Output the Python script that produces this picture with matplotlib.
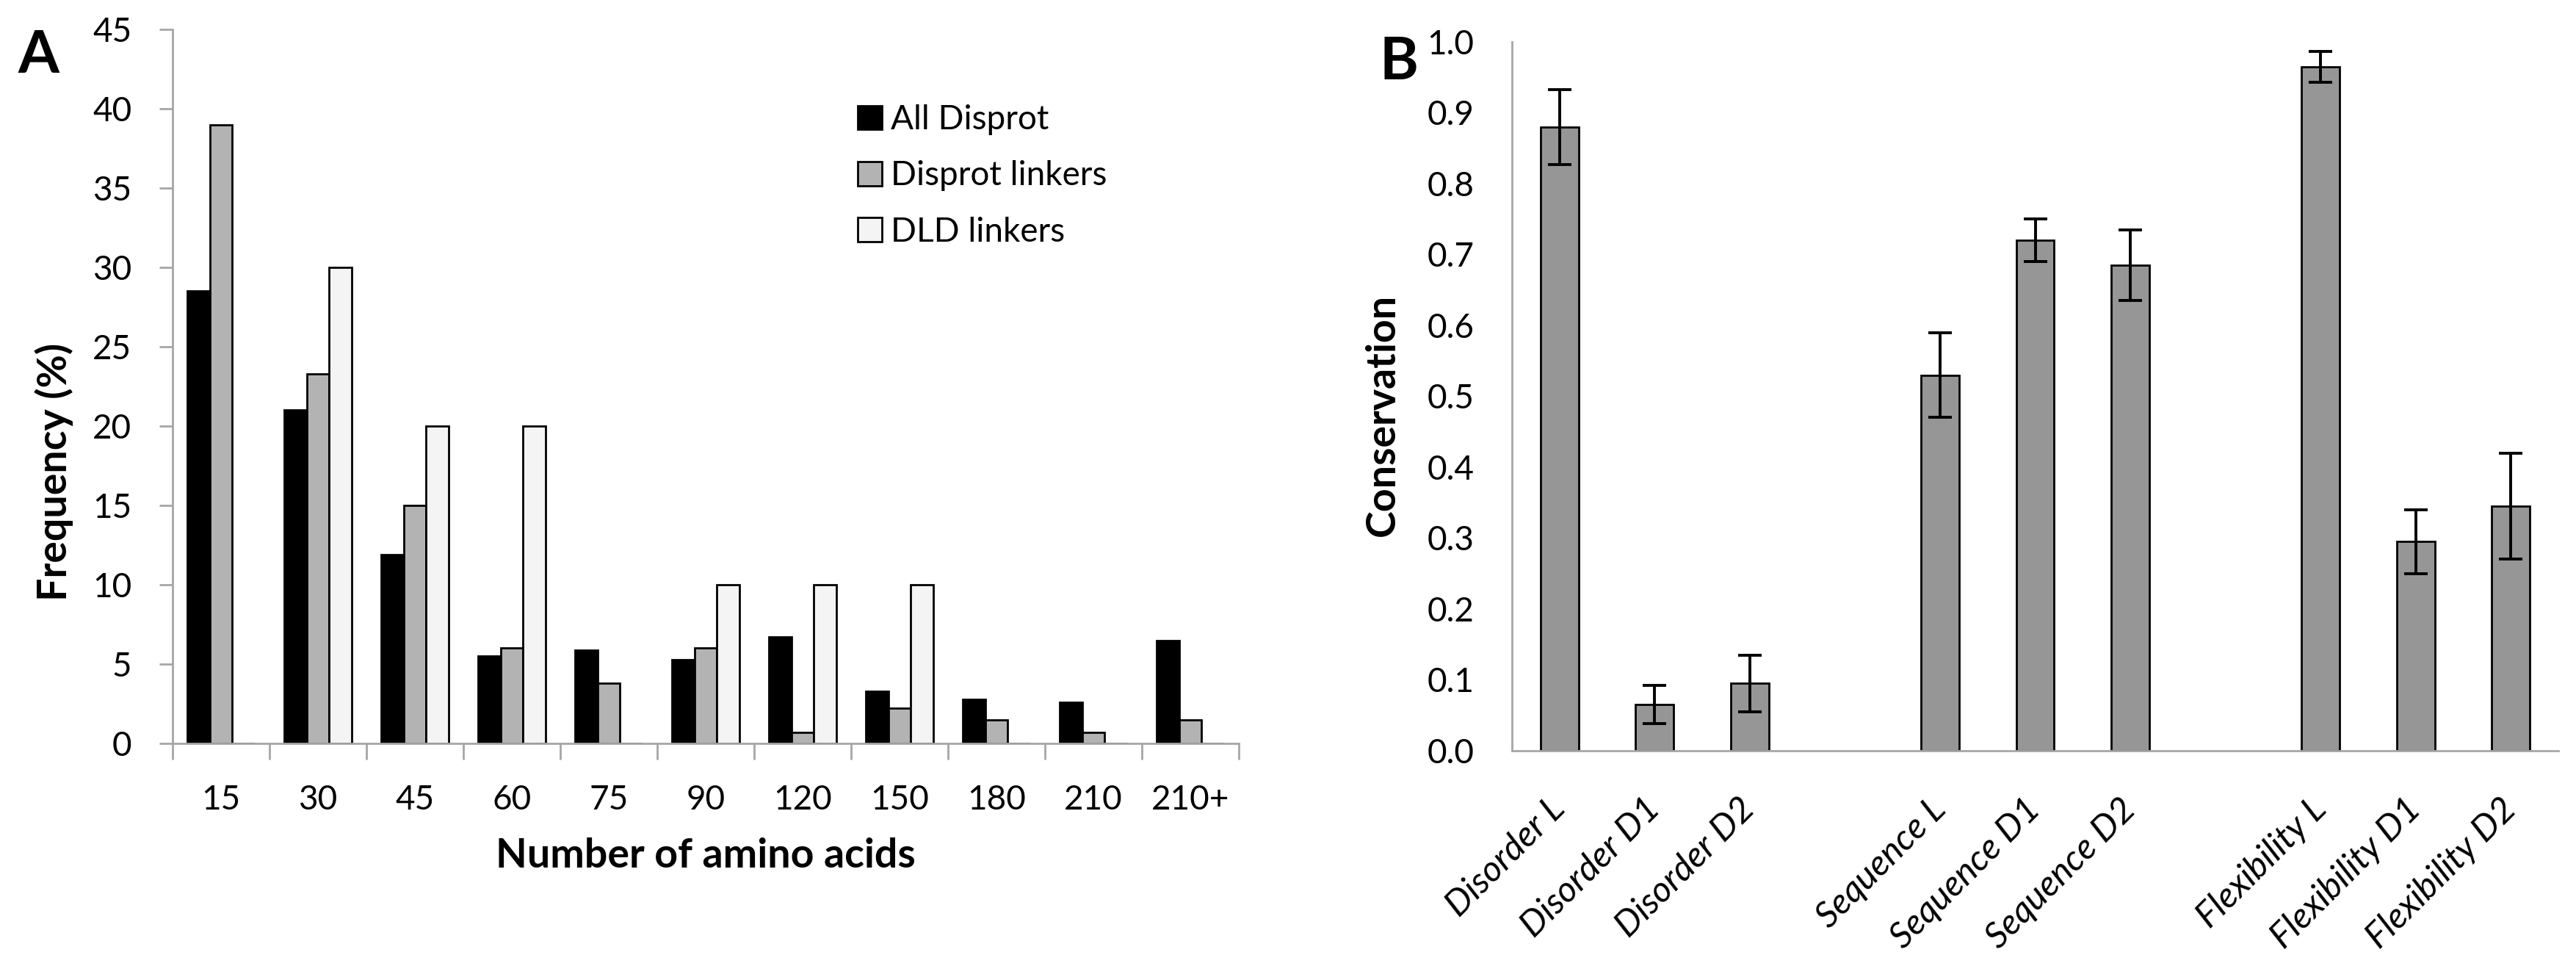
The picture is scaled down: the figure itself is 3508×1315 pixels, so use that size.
import numpy as np
import matplotlib
matplotlib.use("Agg")
import matplotlib.pyplot as plt

plt.rcParams['font.family'] = ['Lato', 'DejaVu Sans']

# panel A - length distribution
lengths = ['15', '30', '45', '60', '75', '90', '120', '150', '180', '210', '210+']
all_disprot = [28.5, 21.0, 11.9, 5.5, 5.9, 5.3, 6.7, 3.3, 2.8, 2.6, 6.5]
disprot_linkers = [39.0, 23.3, 15.0, 6.0, 3.8, 6.0, 0.7, 2.2, 1.5, 0.7, 1.5]
dld_linkers = [0, 30.0, 20.0, 20.0, 0, 10.0, 10.0, 10.0, 0, 0, 0]

# panel B - conservation
cons_labels = ['Disorder L', 'Disorder D1', 'Disorder D2',
               'Sequence L', 'Sequence D1', 'Sequence D2',
               'Flexibility L', 'Flexibility D1', 'Flexibility D2']
cons_slots = [0, 1, 2, 4, 5, 6, 8, 9, 10]
cons_values = [0.88, 0.065, 0.095, 0.53, 0.72, 0.685, 0.965, 0.295, 0.345]
cons_err = [0.053, 0.027, 0.04, 0.06, 0.03, 0.05, 0.022, 0.045, 0.075]

W, H = 3508, 1315
fig = plt.figure(figsize=(W / 100, H / 100), dpi=100)

axis_grey = '#a6a6a6'
tick_fs = 33
label_fs = 40


def style_axes(ax):
    for s in ['top', 'right']:
        ax.spines[s].set_visible(False)
    for s in ['left', 'bottom']:
        ax.spines[s].set_color(axis_grey)
        ax.spines[s].set_linewidth(2)


# ---------- A ----------
axA = fig.add_axes([235 / W, 1 - 1012 / H, (1687 - 235) / W, (1012 - 40) / H])
x = np.arange(len(lengths))
bw = 0.23
axA.bar(x - bw, all_disprot, bw, color='black', edgecolor='black', linewidth=2, label='All Disprot')
axA.bar(x, disprot_linkers, bw, color='#b3b3b3', edgecolor='black', linewidth=2, label='Disprot linkers')
axA.bar(x + bw, dld_linkers, bw, color='#f4f4f4', edgecolor='black', linewidth=2, label='DLD linkers')
axA.set_xlim(-0.5, len(lengths) - 0.5)
axA.set_ylim(0, 45)
axA.set_yticks(np.arange(0, 46, 5))
axA.set_xticks(x)
axA.set_xticklabels(lengths)
axA.set_xticks(np.arange(-0.5, len(lengths), 1), minor=True)
axA.tick_params(axis='x', which='major', length=0, pad=40, labelsize=tick_fs)
axA.tick_params(axis='x', which='minor', length=16, width=2, color=axis_grey)
axA.tick_params(axis='y', length=13, width=2, color=axis_grey, pad=27, labelsize=tick_fs)
style_axes(axA)
axA.set_xlabel('Number of amino acids', fontsize=label_fs, fontweight='bold', labelpad=22)
axA.set_ylabel('Frequency (%)', fontsize=label_fs, fontweight='bold')
axA.yaxis.set_label_coords(-0.093, 0.38)
leg = axA.legend(loc='upper left', bbox_to_anchor=(0.6426, 0.895), frameon=False,
                 fontsize=tick_fs, handlelength=0.72, handleheight=0.72, handletextpad=0.27,
                 labelspacing=0.75, borderpad=0, borderaxespad=0)
fig.text(24 / W, 1 - 99 / H, 'A', fontsize=58, fontweight='bold', va='baseline', ha='left')

# ---------- B ----------
axB = fig.add_axes([2059 / W, 1 - 1022 / H, (3484 - 2059) / W, (1022 - 57) / H])
axB.bar(cons_slots, cons_values, 0.4, color='#969696', edgecolor='black', linewidth=2,
        yerr=cons_err, error_kw=dict(ecolor='black', elinewidth=2.8, capsize=11.5, capthick=2.8))
axB.set_xlim(-0.5, 10.5)
axB.set_ylim(0, 1.0)
axB.set_yticks(np.arange(0, 1.01, 0.1))
axB.set_yticklabels(['%.1f' % v for v in np.arange(0, 1.01, 0.1)])
axB.set_xticks(cons_slots)
axB.set_xticklabels(cons_labels, rotation=45, ha='right', va='center', rotation_mode='anchor',
                    fontstyle='italic')
axB.tick_params(axis='x', length=0, pad=52, labelsize=35)
axB.tick_params(axis='y', length=0, pad=37, labelsize=tick_fs)
style_axes(axB)
axB.set_ylabel('Conservation', fontsize=label_fs, fontweight='bold')
axB.yaxis.set_label_coords(-0.106, 0.474)
fig.text(1878 / W, 1 - 108 / H, 'B', fontsize=58, fontweight='bold', va='baseline', ha='left')

fig.savefig('out.png', dpi=100, facecolor='white')
